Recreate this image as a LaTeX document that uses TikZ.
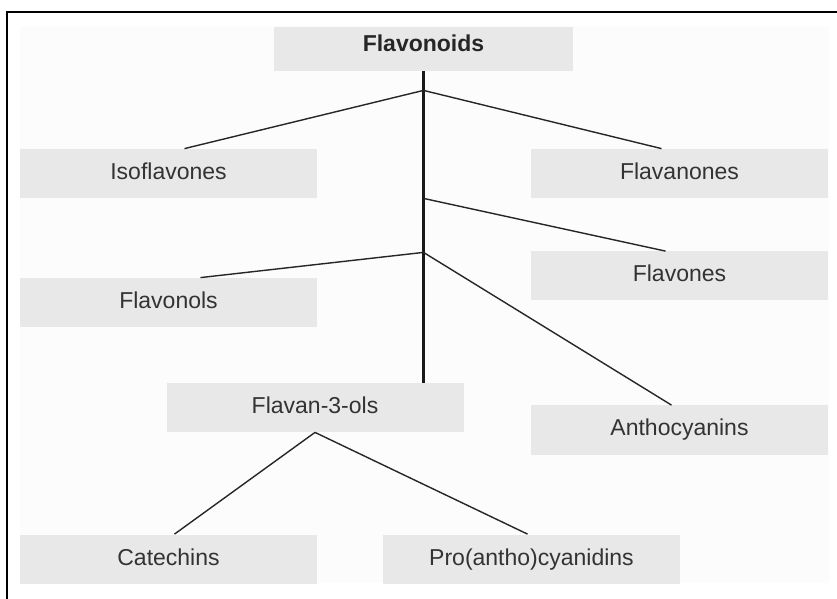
\documentclass[tikz,border=0pt]{standalone}
\usepackage{fontspec}
\setmainfont{Liberation Sans}

\definecolor{boxgray}{HTML}{E8E8E8}
\definecolor{textgray}{HTML}{333333}
\definecolor{paper}{HTML}{FCFCFC}

\tikzset{
  classbox/.style={fill=boxgray, text=textgray, inner sep=0pt,
    minimum width=148.5pt, minimum height=24.5pt,
    text height=8pt, text depth=2pt,
    font=\fontsize{11.5}{13}\selectfont},
  branch/.style={draw=black!85, line width=0.7pt},
  trunk/.style={draw=black!90, line width=1.2pt},
}

\begin{document}
\begin{tikzpicture}[x=0.5pt, y=-0.5pt]

  \useasboundingbox (0,0) rectangle (837,599);
  \fill[paper] (20,26) rectangle (829,583);
  \draw[line width=1pt] (7,599) -- (7,12) -- (837,12);

  % top of the tree
  \node[classbox, minimum width=149.5pt, minimum height=22pt, text depth=5pt,
        text=black!85, font=\fontsize{11.5}{13}\selectfont\bfseries]
        (flavonoids) at (423.5,49) {Flavonoids};

  \node[classbox] (isoflavones)  at (168.5,173.5) {Isoflavones};
  \node[classbox] (flavanones)   at (679.5,173.5) {Flavanones};
  \node[classbox] (flavones)     at (679.5,276)   {Flavones};
  \node[classbox] (flavonols)    at (168.5,302.5) {Flavonols};
  \node[classbox] (flavanols)    at (315,407.5)   {Flavan-3-ols};
  \node[classbox] (anthocyanins) at (679.5,430)   {Anthocyanins};

  % second level
  \node[classbox] (catechins)    at (168.5,559)   {Catechins};
  \node[classbox] (proantho)     at (531.5,559)   {Pro(antho)cyanidins};

  \draw[trunk] (flavonoids.south) -- (flavonoids.south |- flavanols.north);

  \path (flavonoids.south) ++(0,19)  coordinate (j1);
  \path (flavonoids.south) ++(0,127) coordinate (j2);
  \path (flavonoids.south) ++(0,181) coordinate (j3);

  \draw[branch] (j1) -- ([xshift=8pt]isoflavones.north);
  \draw[branch] (j1) -- ([xshift=-9pt]flavanones.north);
  \draw[branch] (j2) -- ([xshift=-7pt]flavones.north);
  \draw[branch] (j3) -- ([xshift=16pt]flavonols.north);
  \draw[branch] (j3) -- ([xshift=-4pt]anthocyanins.north);

  \draw[branch] (flavanols.south) -- ([xshift=3pt]catechins.north);
  \draw[branch] (flavanols.south) -- ([xshift=-2pt]proantho.north);

\end{tikzpicture}
\end{document}
